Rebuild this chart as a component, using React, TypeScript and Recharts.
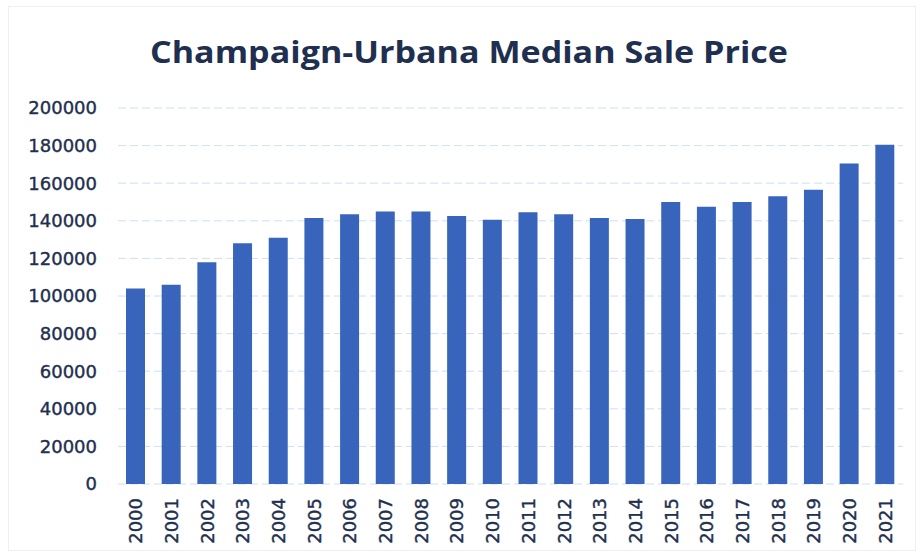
import React from "react";
import { BarChart, Bar, XAxis, YAxis, CartesianGrid } from "recharts";

const years = ["2000","2001","2002","2003","2004","2005","2006","2007","2008","2009","2010","2011","2012","2013","2014","2015","2016","2017","2018","2019","2020","2021"];
const prices = [104000,106000,118000,128000,131000,141500,143500,145000,145000,142500,140500,144500,143500,141500,141000,150000,147500,150000,153000,156500,170500,180500];
const yTicks = [0,20000,40000,60000,80000,100000,120000,140000,160000,180000,200000];
const title = "Champaign-Urbana Median Sale Price";

const data = years.map((y, i) => ({ year: y, price: prices[i] }));

const TEXT = "#1f2f4f";
const FONT = "'DejaVu Sans', sans-serif";

const XTick = (props: any) => {
  const { x, y, payload } = props;
  const ay = y + 14;
  return (
    <text
      x={x}
      y={ay}
      transform={`rotate(-90, ${x}, ${ay})`}
      textAnchor="end"
      dominantBaseline="central"
      fill={TEXT}
      stroke={TEXT}
      strokeWidth={0.4}
      fontFamily={FONT}
      fontSize={18}
    >
      {payload.value}
    </text>
  );
};

export default function App() {
  return (
    <div style={{ position: "absolute", left: 0, top: 0, width: 922, height: 557, background: "#ffffff" }}>
      <div style={{ position: "absolute", left: 8, top: 6, width: 908, height: 545, border: "1px solid #eceff5", boxSizing: "border-box" }} />
      <BarChart
        width={922}
        height={557}
        data={data}
        margin={{ top: 108, right: 19, bottom: 13, left: 18 }}
        barSize={19}
      >
        <CartesianGrid vertical={false} stroke="#cddff4" strokeDasharray="8 4" />
        <XAxis
          dataKey="year"
          axisLine={false}
          tickLine={false}
          tickSize={0}
          tickMargin={0}
          height={60}
          interval={0}
          tick={<XTick />}
        />
        <YAxis
          domain={[0, 200000]}
          ticks={yTicks}
          interval={0}
          axisLine={false}
          tickLine={false}
          tickSize={0}
          tickMargin={21}
          width={100}
          tick={{ fill: TEXT, stroke: TEXT, strokeWidth: 0.4, fontSize: 18, fontFamily: FONT }}
        />
        <Bar dataKey="price" fill="#3864bc" isAnimationActive={false} />
      </BarChart>
      <svg width={922} height={100} style={{ position: "absolute", left: 0, top: 0 }}>
        <text
          x={469}
          y={63}
          textAnchor="middle"
          fill={TEXT}
          fontFamily="'Open Sans', sans-serif"
          fontWeight={700}
          fontSize={31}
          textLength={638}
          lengthAdjust="spacingAndGlyphs"
        >
          {title}
        </text>
      </svg>
    </div>
  );
}
